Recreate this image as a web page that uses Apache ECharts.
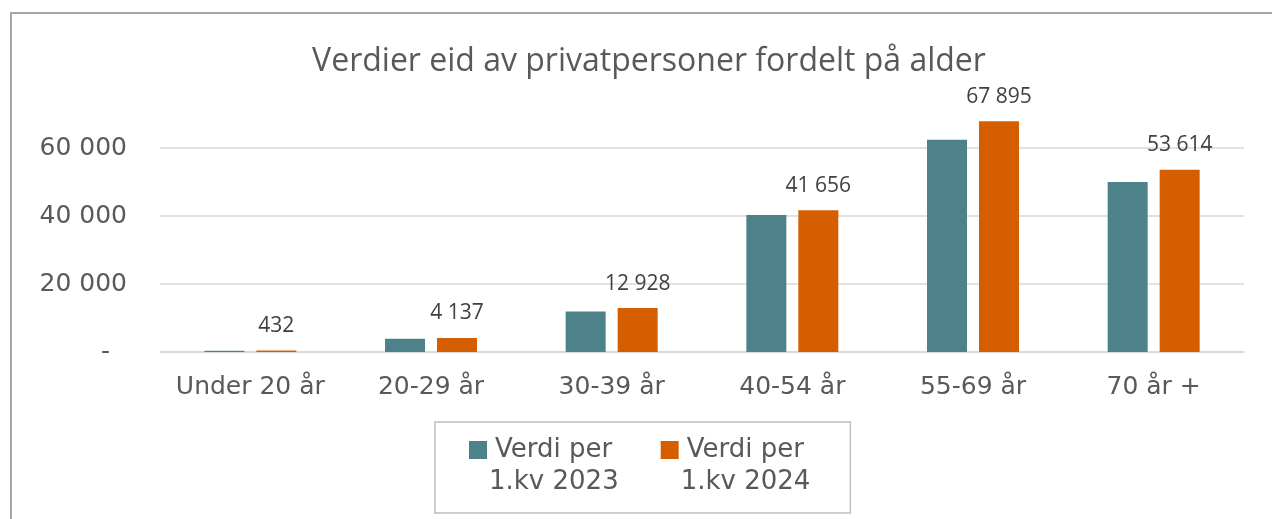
<!DOCTYPE html>
<html>
<head>
    <meta charset="utf-8">
    <title>Verdier eid av privatpersoner</title>
    <script src="https://cdn.jsdelivr.net/npm/echarts@6.0.0/dist/echarts.min.js"></script>
    <style>
        body { margin: 0; background: #fff; overflow: hidden; }
        #chart { width: 1272px; height: 519px; }
    </style>
</head>
<body>
    <div id="chart"></div>

    <script>
        // data
        var categories = ['Under 20 år', '20-29 år', '30-39 år', '40-54 år', '55-69 år', '70 år +'];
        var seriesNames = ['Verdi per\n1.kv 2023', 'Verdi per\n1.kv 2024'];
        var values2023 = [400, 3900, 11900, 40300, 62400, 50000];
        var values2024 = [432, 4137, 12928, 41656, 67895, 53614];
        var yTicks = [0, 20000, 40000, 60000];

        var teal = '#4e828b';
        var orange = '#d55e00';
        var textGrey = '#595959';

        // 67895 -> "67 895"
        function fmt(v) {
            return String(v).replace(/\B(?=(\d{3})+(?!\d))/g, ' ');
        }

        var chart = echarts.init(document.getElementById('chart'));

        var option = {
            animation: false,
            title: {
                text: 'Verdier eid av privatpersoner fordelt på alder',
                left: 644,
                top: 41,
                textAlign: 'center',
                textStyle: {
                    fontFamily: 'Open Sans',
                    fontSize: 32,
                    fontWeight: 'normal',
                    color: textGrey
                }
            },
            // outer frame of the chart area
            graphic: [{
                type: 'rect',
                shape: { x: 11, y: 13, width: 1320, height: 600 },
                style: { fill: 'none', stroke: '#a6a6a6', lineWidth: 2 },
                silent: true
            }],
            legend: {
                left: 435,
                top: 422,
                orient: 'horizontal',
                icon: 'none',
                itemWidth: 0,
                itemHeight: 0,
                itemGap: 37,
                padding: [15, 40, 18, 29],
                borderColor: '#bfbfbf',
                borderWidth: 1.5,
                data: seriesNames,
                formatter: function (name) {
                    var parts = name.split('\n');
                    var sq = name === seriesNames[0] ? 'a' : 'b';
                    return '{' + sq + '|}{t|' + parts[0] + '}\n{p|}{t|' + parts[1] + '}';
                },
                textStyle: {
                    rich: {
                        a: { width: 18, height: 18, backgroundColor: teal },
                        b: { width: 18, height: 18, backgroundColor: orange },
                        p: { width: 12, height: 18 },
                        t: {
                            fontFamily: 'DejaVu Sans',
                            fontSize: 26,
                            lineHeight: 32,
                            color: textGrey,
                            padding: [0, 0, 0, 8]
                        }
                    }
                }
            },
            grid: {
                left: 160,
                right: 28,
                top: 148,
                bottom: 167
            },
            xAxis: {
                type: 'category',
                data: categories,
                axisLine: { lineStyle: { color: '#d9d9d9', width: 1.5 } },
                axisTick: { show: false },
                axisLabel: {
                    interval: 0,
                    margin: 23,
                    fontFamily: 'DejaVu Sans',
                    fontSize: 25,
                    color: textGrey
                }
            },
            yAxis: {
                type: 'value',
                min: yTicks[0],
                max: yTicks[yTicks.length - 1],
                interval: yTicks[1] - yTicks[0],
                axisLine: { show: false },
                axisTick: { show: false },
                splitLine: { lineStyle: { color: '#d9d9d9', width: 1.5 } },
                axisLabel: {
                    margin: 33,
                    fontFamily: 'DejaVu Sans',
                    fontSize: 25,
                    color: textGrey,
                    formatter: function (v) {
                        // Excel accounting format shows zero as a dash
                        return v === 0 ? '{d|-}' : fmt(v);
                    },
                    rich: {
                        d: {
                            fontFamily: 'DejaVu Sans',
                            fontSize: 25,
                            color: textGrey,
                            padding: [0, 17, 0, 0]
                        }
                    }
                }
            },
            series: [{
                name: seriesNames[0],
                type: 'bar',
                data: values2023,
                barWidth: 40,
                barGap: '30%',
                clip: false,
                itemStyle: { color: teal }
            }, {
                name: seriesNames[1],
                type: 'bar',
                data: values2024,
                barWidth: 40,
                clip: false,
                itemStyle: { color: orange },
                label: {
                    show: true,
                    position: 'top',
                    distance: 14,
                    fontFamily: 'Open Sans',
                    fontSize: 21,
                    color: '#404040',
                    formatter: function (p) {
                        return fmt(p.value);
                    }
                }
            }]
        };
        chart.setOption(option);
    </script>
</body>
</html>
